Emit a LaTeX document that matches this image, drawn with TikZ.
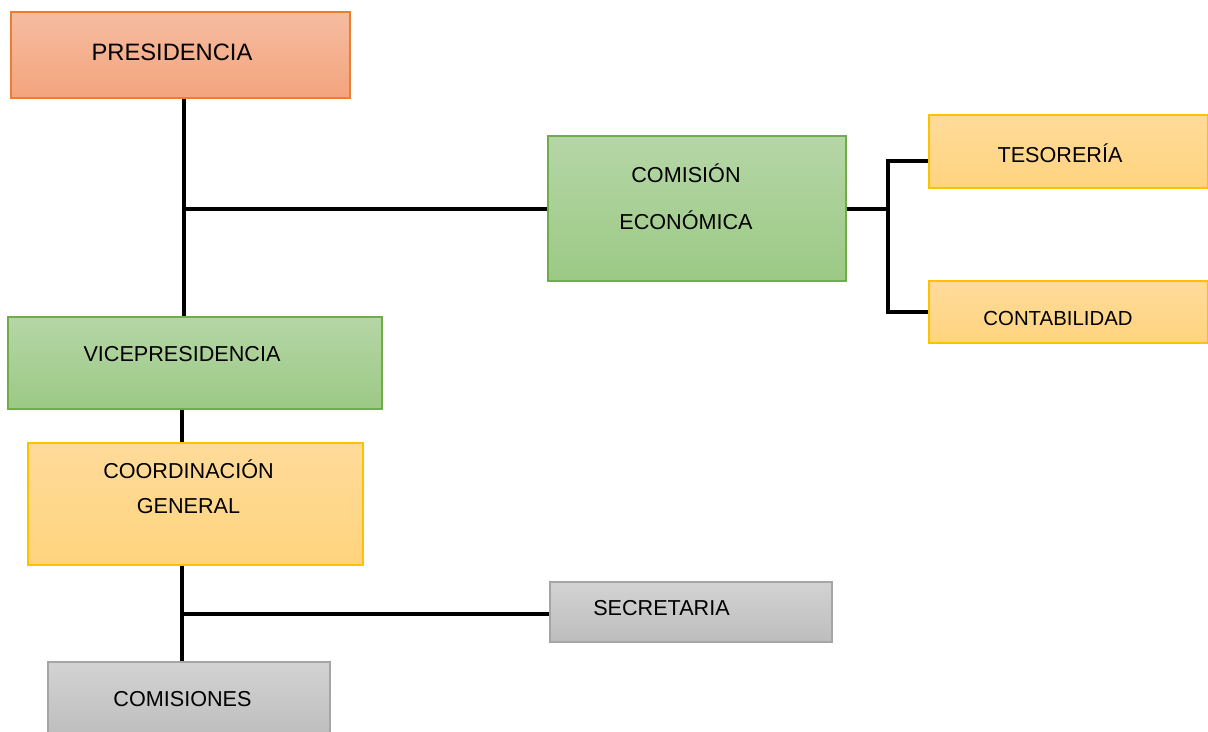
\documentclass[tikz,border=0pt]{standalone}
\usepackage{fontspec}
\setmainfont{Liberation Sans}
\usepackage{tikz}
\definecolor{obord}{HTML}{ED7D31}
\definecolor{otop}{HTML}{F5BCA0}
\definecolor{obot}{HTML}{F4A47D}
\definecolor{gbord}{HTML}{70AD47}
\definecolor{gtop}{HTML}{B5D6A6}
\definecolor{gbot}{HTML}{9CC985}
\definecolor{ybord}{HTML}{FFC000}
\definecolor{ytop}{HTML}{FFDB9A}
\definecolor{ybot}{HTML}{FFD47E}
\definecolor{sbord}{HTML}{A5A5A5}
\definecolor{stop}{HTML}{D3D3D3}
\definecolor{sbot}{HTML}{BDBDBD}
\tikzset{
	box/.style 2 args={rectangle,inner sep=0pt,line width=0.7pt,minimum width=#1,minimum height=#2},
	obox/.style={draw=obord,top color=otop,bottom color=obot},
	gbox/.style={draw=gbord,top color=gtop,bottom color=gbot},
	ybox/.style={draw=ybord,top color=ytop,bottom color=ybot},
	sbox/.style={draw=sbord,top color=stop,bottom color=sbot},
	every label/.style={font=\fontsize{12.3}{14}\selectfont,align=center,inner sep=0pt},
	conn/.style={line width=2.3pt}
}
\begin{document}
\begin{tikzpicture}[x=0.02cm,y=-0.02cm]
						\useasboundingbox (0,0) rectangle (1208,731);
						\node [box={6.78cm}{1.72cm},obox,label={[xshift=-0.17cm,yshift=0.06cm,font=\fontsize{13.5}{16}\selectfont]center:PRESIDENCIA}] (pres) at (180.5,55) {};
						\node [box={5.96cm}{2.9cm},gbox,label={[xshift=-0.22cm,yshift=0.23cm,font=\fontsize{12.3}{26.7}\selectfont]center:COMISIÓN\\ECONÓMICA}] (econ) at (697,208.5) {};
						\node [box={5.58cm}{1.46cm},ybox,label={[xshift=-0.17cm,yshift=-0.03cm]center:TESORERÍA}] (teso) at (1068.5,151.5) {};
						\node [box={5.58cm}{1.24cm},ybox,label={[xshift=-0.21cm,yshift=-0.12cm,font=\fontsize{11.6}{14}\selectfont]center:CONTABILIDAD}] (conta) at (1068.5,312) {};
						\node [box={7.48cm}{1.84cm},gbox,label={[xshift=-0.26cm,yshift=0.18cm]center:VICEPRESIDENCIA}] (vice) at (195,363) {};
						\node [box={6.7cm}{2.44cm},ybox,label={[xshift=-0.14cm,yshift=0.35cm,font=\fontsize{12.3}{20}\selectfont]center:COORDINACIÓN\\GENERAL}] (coord) at (195.5,504) {};
						\node [box={5.64cm}{1.2cm},sbox,label={[xshift=-0.59cm,yshift=0.08cm]center:SECRETARIA}] (secre) at (691,612) {};
						\node [box={5.64cm}{1.52cm},sbox,label={[xshift=-0.13cm,yshift=0.02cm]center:COMISIONES}] (comis) at (189,700) {};

						\coordinate (j1) at (184,209);
						\coordinate (j2) at (888,209);
						\coordinate (j3) at (182,614);

						\draw [conn] (j1 |- pres.south) -- (j1 |- vice.north);
						\draw [conn] (j1) -- (j1 -| econ.west);
						\draw [conn] (j2 -| econ.east) -- (j2);
						\draw [conn] ([yshift=-0.19cm]teso.west) -| (j2) |- (conta.west);
						\draw [conn] (j3 |- vice.south) -- (j3 |- coord.north);
						\draw [conn] (j3 |- coord.south) -- (j3 |- comis.north);
						\draw [conn] (j3) -- (j3 -| secre.west);
					\end{tikzpicture}
\end{document}
